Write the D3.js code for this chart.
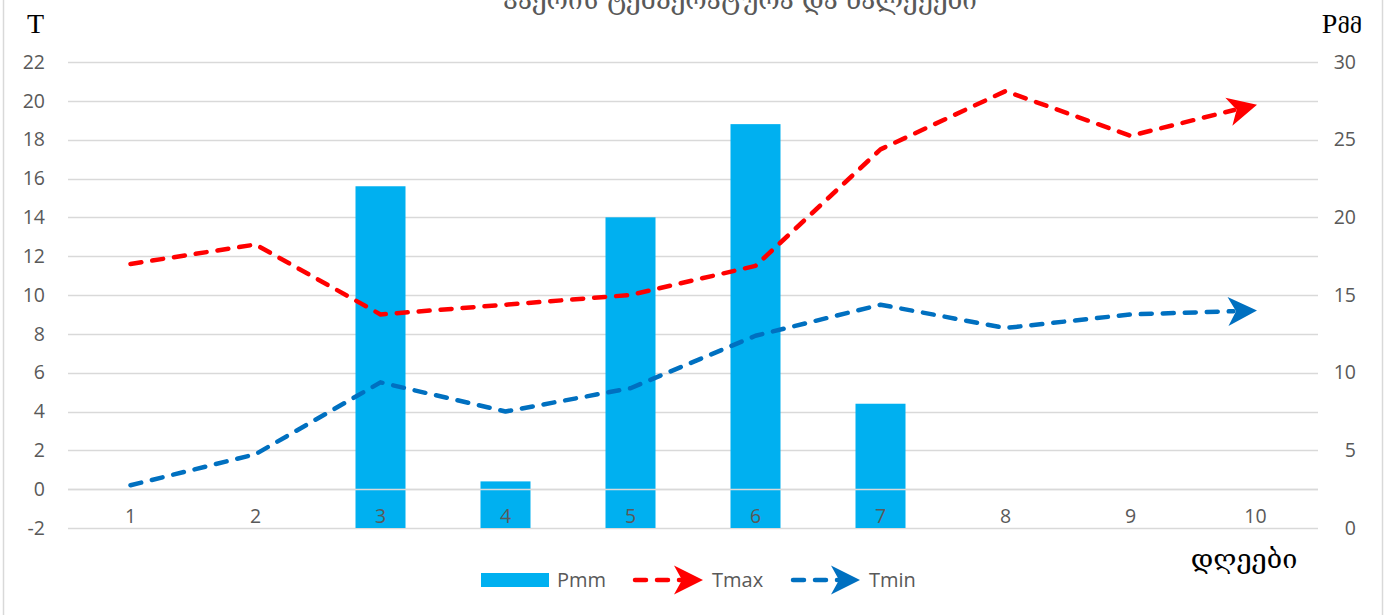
<!DOCTYPE html>
<html>
<head>
<meta charset="utf-8">
<script src="https://cdn.jsdelivr.net/npm/d3@7"></script>
<style>
  html, body { margin: 0; padding: 0; background: #ffffff; }
  svg { display: block; }
</style>
</head>
<body>
<svg id="chart" width="1389" height="615"></svg>
<script>
// ---- data ----
const days = ["1", "2", "3", "4", "5", "6", "7", "8", "9", "10"];
const pmm  = [0, 0, 22, 3, 20, 26, 8, 0, 0, 0];
const tmax = [11.6, 12.6, 9.0, 9.5, 10.0, 11.5, 17.5, 20.5, 18.2, 19.8];
const tmin = [0.2, 1.8, 5.5, 4.0, 5.2, 7.9, 9.5, 8.3, 9.0, 9.2];
const tTicks = [-2, 0, 2, 4, 6, 8, 10, 12, 14, 16, 18, 20, 22];
const pTicks = [0, 5, 10, 15, 20, 25, 30];
const titleText = "ჰაერის ტემპერატურა და ნალექები";
const leftTitle = "T";
const rightTitleA = "P";
const rightTitleB = "მმ";
const xTitle = "დღეები";
const seriesNames = ["Pmm", "Tmax", "Tmin"];

(function () {
const colBar = "#00b0f0", colMax = "#ff0000", colMin = "#0070c0";
const textCol = "#595959", gridCol = "#d9d9d9";
const labelFont = "'Open Sans', 'Segoe UI', sans-serif";
const geoFont = "'DejaVu Serif', 'DejaVu Sans', serif";
const fmt = d => String(d);

const svg = d3.select("#chart");

// chart border
svg.append("rect").attr("x", 3.5).attr("y", -10).attr("width", 1379).attr("height", 640)
  .attr("fill", "#fff").attr("stroke", gridCol).attr("stroke-width", 1.5);

const pLeft = 68, pRight = 1318, pTop = 62, pBottom = 528;
const x = d3.scaleBand().domain(days).range([pLeft, pRight]).paddingInner(0.6).paddingOuter(0.3);
const cx = d => x(d) + x.bandwidth() / 2;
const yL = d3.scaleLinear().domain([-2, 22]).range([pBottom, pTop]);
const yR = d3.scaleLinear().domain([0, 30]).range([pBottom, pTop]);

// gridlines
svg.append("g").selectAll("line").data(tTicks).join("line")
  .attr("x1", pLeft).attr("x2", pRight)
  .attr("y1", d => Math.round(yL(d)) + 0.5).attr("y2", d => Math.round(yL(d)) + 0.5)
  .attr("stroke", gridCol).attr("stroke-width", 1.5);

// bars
svg.append("g").selectAll("rect").data(days).join("rect")
  .attr("x", d => x(d)).attr("width", x.bandwidth())
  .attr("y", (d, i) => yR(pmm[i])).attr("height", (d, i) => yR(0) - yR(pmm[i]))
  .attr("fill", colBar);

// zero axis line over bars
svg.append("line").attr("x1", pLeft).attr("x2", pRight)
  .attr("y1", Math.round(yL(0)) + 0.5).attr("y2", Math.round(yL(0)) + 0.5)
  .attr("stroke", gridCol).attr("stroke-width", 1.5);

// left axis labels
const axL = svg.append("g").attr("transform", `translate(${pLeft},0)`)
  .call(d3.axisLeft(yL).tickValues(tTicks).tickSize(0).tickPadding(23).tickFormat(fmt));
axL.select(".domain").remove();
axL.selectAll("text").attr("fill", textCol).style("font-family", labelFont).style("font-size", "19.5px");

// right axis labels
const axR = svg.append("g").attr("transform", `translate(${pRight},0)`)
  .call(d3.axisRight(yR).tickValues(pTicks).tickSize(0).tickPadding(0).tickFormat(fmt));
axR.select(".domain").remove();
axR.selectAll("text").attr("fill", textCol).style("font-family", labelFont).style("font-size", "19.5px")
  .attr("text-anchor", "end").attr("x", 38);

// x axis labels
const axX = svg.append("g").attr("transform", `translate(0,${yL(0)})`)
  .call(d3.axisBottom(x).tickSize(0).tickPadding(20));
axX.select(".domain").remove();
axX.selectAll("text").attr("fill", textCol).style("font-family", labelFont).style("font-size", "19.5px");

// arrow helper
function arrow(g, tipX, tipY, angle, color) {
  g.append("path")
    .attr("d", "M0,0 L-29,-14.5 L-21,0 L-29,14.5 Z")
    .attr("transform", `translate(${tipX},${tipY}) rotate(${angle * 180 / Math.PI})`)
    .attr("fill", color);
}

function drawSeries(vals, color) {
  const pts = days.map((d, i) => [cx(d), yL(vals[i])]);
  const n = pts.length;
  const [x0, y0] = pts[n - 2], [x1, y1] = pts[n - 1];
  const ang = Math.atan2(y1 - y0, x1 - x0);
  const linePts = pts.slice(0, n - 1).concat([[x1 - 22 * Math.cos(ang), y1 - 22 * Math.sin(ang)]]);
  const g = svg.append("g");
  g.append("path").attr("d", d3.line()(linePts))
    .attr("fill", "none").attr("stroke", color).attr("stroke-width", 4.5)
    .attr("stroke-dasharray", "11,11").attr("stroke-linecap", "round").attr("stroke-linejoin", "round");
  arrow(g, x1 + 1.5, y1, ang, color);
}
drawSeries(tmax, colMax);
drawSeries(tmin, colMin);

// titles (chart title is cropped at the top edge, as in the reference)
svg.append("text").attr("x", 740).attr("y", 9).attr("text-anchor", "middle")
  .attr("fill", textCol).style("font-family", geoFont).style("font-size", "26px").text(titleText);
svg.append("text").attr("x", 27).attr("y", 33)
  .attr("fill", "#000").style("font-family", "'Liberation Serif', serif").style("font-size", "28px").text(leftTitle);
const rt = svg.append("text").attr("x", 1362).attr("y", 33).attr("text-anchor", "end")
  .attr("fill", "#000").style("font-family", "'Liberation Serif', 'DejaVu Serif', serif").style("font-size", "28px");
rt.append("tspan").text(rightTitleA);
rt.append("tspan").style("font-family", geoFont).style("font-size", "21px").text(rightTitleB);
svg.append("text").attr("x", 1244).attr("y", 568).attr("text-anchor", "middle")
  .attr("fill", "#000").style("font-family", geoFont).style("font-size", "27px").text(xTitle);

// legend
const lg = svg.append("g");
lg.append("rect").attr("x", 481).attr("y", 573).attr("width", 68).attr("height", 14).attr("fill", colBar);
lg.append("text").attr("x", 557).attr("y", 587).attr("fill", textCol)
  .style("font-family", labelFont).style("font-size", "20px").text(seriesNames[0]);
[[633, 703, colMax, 712, seriesNames[1]], [791, 860, colMin, 869, seriesNames[2]]].forEach(([a, b, c, tx, name]) => {
  lg.append("line").attr("x1", a + 2).attr("x2", b - 22).attr("y1", 580).attr("y2", 580)
    .attr("stroke", c).attr("stroke-width", 4.5).attr("stroke-dasharray", "11,11").attr("stroke-linecap", "round");
  arrow(lg, b, 580, 0, c);
  lg.append("text").attr("x", tx).attr("y", 587).attr("fill", textCol)
    .style("font-family", labelFont).style("font-size", "20px").text(name);
});
})();
</script>
</body>
</html>
